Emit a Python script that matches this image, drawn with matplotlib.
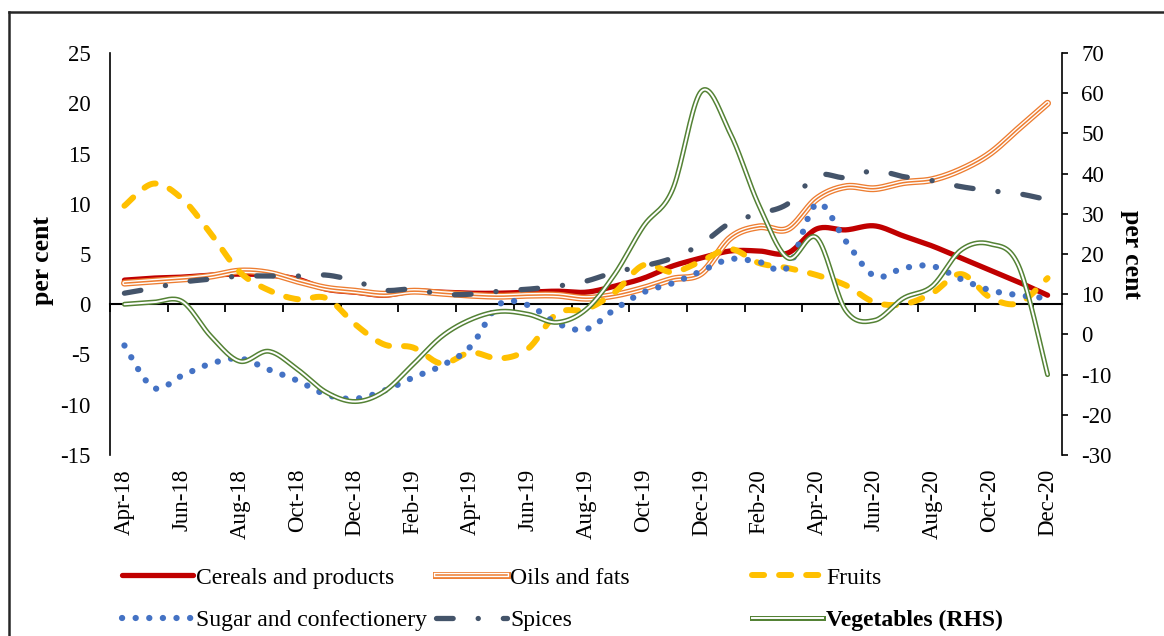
import numpy as np
import matplotlib
matplotlib.use("Agg")
import matplotlib.pyplot as plt
from matplotlib.lines import Line2D
from matplotlib.legend_handler import HandlerTuple

plt.rcParams['font.family'] = ['Liberation Serif', 'DejaVu Serif']
plt.rcParams['lines.scale_dashes'] = False
plt.rcParams['axes.unicode_minus'] = False

months = ['Apr-18', 'May-18', 'Jun-18', 'Jul-18', 'Aug-18', 'Sep-18', 'Oct-18', 'Nov-18',
          'Dec-18', 'Jan-19', 'Feb-19', 'Mar-19', 'Apr-19', 'May-19', 'Jun-19', 'Jul-19',
          'Aug-19', 'Sep-19', 'Oct-19', 'Nov-19', 'Dec-19', 'Jan-20', 'Feb-20', 'Mar-20',
          'Apr-20', 'May-20', 'Jun-20', 'Jul-20', 'Aug-20', 'Sep-20', 'Oct-20', 'Nov-20',
          'Dec-20']

cereals = [2.4, 2.6, 2.7, 2.9, 3.0, 2.9, 2.5, 1.5, 1.2, 0.9, 1.3, 1.2, 1.1, 1.1, 1.2, 1.3,
           1.2, 1.8, 2.6, 3.8, 4.6, 5.3, 5.3, 5.1, 7.5, 7.4, 7.8, 6.8, 5.8, 4.6, 3.4, 2.2, 0.9]
oils = [2.1, 2.3, 2.5, 2.8, 3.3, 3.1, 2.3, 1.6, 1.3, 1.0, 1.3, 1.1, 0.9, 0.8, 0.9, 0.9,
        0.6, 0.9, 1.6, 2.5, 3.1, 6.6, 7.7, 7.5, 10.5, 11.7, 11.5, 12.1, 12.4, 13.4, 15.0, 17.5, 20.0]
fruits = [9.8, 12.0, 10.5, 7.0, 3.2, 1.4, 0.5, 0.6, -2.0, -4.0, -4.3, -5.9, -4.8, -5.4, -4.4, -0.9,
          -0.5, 1.2, 3.9, 3.2, 4.3, 5.5, 4.1, 3.6, 2.9, 1.9, 0.2, 0.0, 1.1, 3.0, 0.7, 0.1, 2.6]
sugar = [-4.1, -8.3, -7.1, -5.9, -5.4, -6.5, -7.6, -9.0, -9.4, -8.6, -7.3, -6.1, -4.2, 0.0, -0.1, -1.9,
         -2.5, -0.5, 1.2, 2.1, 3.3, 4.5, 4.2, 3.7, 10.0, 6.3, 2.8, 3.6, 3.8, 2.5, 1.4, 0.9, 0.6]
spices = [1.1, 1.6, 2.2, 2.5, 2.8, 2.8, 2.8, 2.9, 2.3, 1.4, 1.5, 1.0, 1.0, 1.3, 1.5, 1.8,
          2.3, 3.2, 3.8, 4.6, 6.0, 8.1, 9.0, 10.0, 12.8, 12.6, 13.3, 12.7, 12.3, 11.7, 11.3, 11.0, 10.4]
vegetables = [7.5, 8.0, 8.2, -0.5, -6.7, -4.2, -8.7, -14.4, -16.7, -14.2, -7.5, -0.5, 3.7, 5.7, 5.0, 3.0,
              6.2, 15.0, 27.0, 36.0, 60.5, 50.0, 32.0, 19.0, 24.0, 6.0, 3.5, 9.0, 12.0, 21.0, 22.5, 17.0, -10.0]

left_ticks = list(range(-15, 26, 5))
right_ticks = list(range(-30, 71, 10))

C_CER, C_OIL, C_FRU, C_SUG, C_SPI, C_VEG = '#C00000', '#ED7D31', '#FFC000', '#4472C4', '#44546A', '#548235'
FS_TICK = 16.5
FS_LEG = 17


def smooth(vals, n=20):
    """Excel-like smoothed line (cubic Bezier through the points)."""
    P = np.column_stack([np.arange(len(vals), dtype=float), np.asarray(vals, float)])
    out = []
    for i in range(len(P) - 1):
        p0 = P[i - 1] if i > 0 else P[i]
        p1, p2 = P[i], P[i + 1]
        p3 = P[i + 2] if i + 2 < len(P) else P[i + 1]
        c1 = p1 + (p2 - p0) / 6.0
        c2 = p2 - (p3 - p1) / 6.0
        t = np.linspace(0, 1, n, endpoint=(i == len(P) - 2))[:, None]
        seg = ((1 - t) ** 3) * p1 + 3 * ((1 - t) ** 2) * t * c1 + 3 * (1 - t) * t ** 2 * c2 + t ** 3 * p2
        out.append(seg)
    s = np.vstack(out)
    return s[:, 0], s[:, 1]


fig = plt.figure(figsize=(11.64, 6.36), dpi=100)
ax = fig.add_axes([110 / 1164, 1 - 455 / 636, 952 / 1164, 402 / 636])
ax2 = ax.twinx()

# series
xs, ys = smooth(cereals)
ax.plot(xs, ys, color=C_CER, lw=3.8, solid_capstyle='round', zorder=3)
xs, ys = smooth(oils)
ax.plot(xs, ys, color=C_OIL, lw=5.0, solid_capstyle='round', zorder=4)
ax.plot(xs, ys, color='white', lw=3.1, solid_capstyle='round', zorder=4)
ax.plot(xs, ys, color=C_OIL, lw=1.1, solid_capstyle='round', zorder=4)
xs, ys = smooth(fruits)
ax.plot(xs, ys, color=C_FRU, lw=4.3, ls=(0, (8.7, 10.8)), dash_capstyle='round', zorder=5)
xs, ys = smooth(sugar)
ax.plot(xs, ys, color=C_SUG, lw=4.5, ls=(0, (0.1, 9.7)), dash_capstyle='round', zorder=6)
xs, ys = smooth(spices)
ax.plot(xs, ys, color=C_SPI, lw=3.8, ls=(0, (12.0, 18.0, 0.1, 18.0)), dash_capstyle='round', zorder=7)
xs, ys = smooth(vegetables)
ax2.plot(xs, ys, color=C_VEG, lw=3.6, solid_capstyle='round', zorder=3)
ax2.plot(xs, ys, color='white', lw=1.4, solid_capstyle='round', zorder=3)

# left axis
ax.set_xlim(-0.5, len(months) - 0.5)
ax.set_ylim(-15, 25)
ax.set_yticks(left_ticks)
ax.tick_params(axis='y', length=0, pad=14, labelsize=FS_TICK)
for s in ['top', 'right']:
    ax.spines[s].set_visible(False)
ax.spines['left'].set_linewidth(1.2)
ax.spines['bottom'].set_position(('data', 0))
ax.spines['bottom'].set_linewidth(1.5)
ax.set_xticks(np.arange(-0.5, len(months) - 0.5, 2))
ax.tick_params(axis='x', which='major', direction='out', length=5.5, width=1.3, labelbottom=False)

sec = ax.secondary_xaxis('bottom')
sec.set_xticks(np.arange(0, len(months), 2), months[::2], rotation=90)
sec.tick_params(length=0, pad=10, labelsize=FS_TICK)
sec.spines['bottom'].set_visible(False)

# right axis
ax2.set_ylim(-30, 70)
ax2.set_yticks(right_ticks)
ax2.tick_params(axis='y', direction='out', length=4, width=1.2, pad=10, labelsize=FS_TICK)
for s in ['top', 'bottom', 'left']:
    ax2.spines[s].set_visible(False)
ax2.spines['right'].set_linewidth(1.2)

ax.set_ylabel('per cent', fontsize=18.5, fontweight='bold', rotation=90, va='center', ha='center')
ax.yaxis.set_label_coords(-0.0714, 0.483)
ax2.set_ylabel('per cent', fontsize=18.5, fontweight='bold', rotation=-90, va='center', ha='center')
ax2.yaxis.set_label_coords(1.0735, 0.5)

# outer frame (top and left edges)
fig.add_artist(Line2D([9 / 1164, 9 / 1164], [0, 1 - 12 / 636], transform=fig.transFigure,
                      color='#262626', lw=1.8))
fig.add_artist(Line2D([9 / 1164, 1], [1 - 12 / 636, 1 - 12 / 636], transform=fig.transFigure,
                      color='#262626', lw=1.8))

# legend
h_cer = Line2D([], [], color=C_CER, lw=3.8, solid_capstyle='round')
h_oil = (Line2D([], [], color=C_OIL, lw=5.0), Line2D([], [], color='white', lw=3.1),
         Line2D([], [], color=C_OIL, lw=1.1))
h_fru = Line2D([], [], color=C_FRU, lw=4.3, ls=(0, (8.7, 10.8)), dash_capstyle='round')
h_sug = Line2D([], [], color=C_SUG, lw=4.5, ls=(0, (0.1, 9.7)), dash_capstyle='round')
h_spi = Line2D([], [], color=C_SPI, lw=3.8, ls=(0, (12.0, 18.0, 0.1, 18.0)), dash_capstyle='round')
h_veg = (Line2D([], [], color=C_VEG, lw=3.6), Line2D([], [], color='white', lw=1.4))

cols = [([h_cer, h_sug], ['Cereals and products', 'Sugar and confectionery'], 122),
        ([h_oil, h_spi], ['Oils and fats', 'Spices'], 436),
        ([h_fru, h_veg], ['Fruits', 'Vegetables (RHS)'], 752)]
for handles, labels, xpx in cols:
    leg = fig.legend(handles, labels, loc='upper left', bbox_to_anchor=(xpx / 1164, 1 - 567 / 636),
                     bbox_transform=fig.transFigure, frameon=False, borderpad=0, borderaxespad=0,
                     handlelength=3.0, handletextpad=0.15, labelspacing=0.88, fontsize=FS_LEG,
                     handler_map={tuple: HandlerTuple(ndivide=1, pad=0)})
    if labels[1].startswith('Vegetables'):
        leg.get_texts()[1].set_fontweight('bold')

fig.savefig('out.png', dpi=100)
